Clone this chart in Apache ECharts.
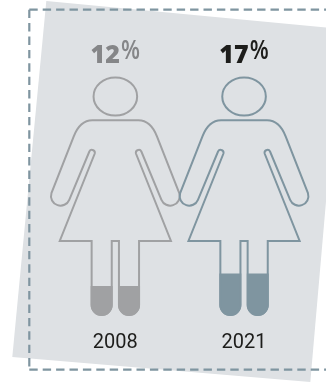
<!DOCTYPE html>
<html>
<head>
<meta charset="utf-8">
<style>html,body{margin:0;padding:0;background:#fff}#chart{width:326px;height:382px}</style>
<script src="https://cdn.jsdelivr.net/npm/echarts@6/dist/echarts.min.js"></script>
</head>
<body>
<div id="chart"></div>
<script>
// Share of women per survey year
const years = ['2008', '2021'];
const shares = [12, 17];
const lineColors = ['#a0a1a3', '#7f95a0'];
const numberColors = ['#858688', '#1d1d1b'];

// Silhouette outline, relative to the figure's centre line and the baseline at share 0
function halfOutline(sign) {
  const s = v => (sign * v).toFixed(2);
  const cw = sign > 0 ? 1 : 0;
  return [
    `M0 -195.7`, `L${s(23)} -195.7`,
    `C${s(32)} -195.7 ${s(38)} -189 ${s(41.7)} -179.3`,
    `L${s(63.9)} -122.8`,
    `A9.5 9.5 0 0 ${cw} ${s(46.1)} -116.2`,
    `L${s(26)} -164.5`,
    `A2.9 2.9 0 0 ${1 - cw} ${s(20.6)} -162.5`,
    `L${s(55.6)} -75`,
    `L${s(23.7)} -75`,
    `L${s(23.7)} -11`,
    `A10.05 10.05 0 0 ${cw} ${s(3.6)} -11`,
    `L${s(3.6)} -75`,
    `L0 -75`
  ].join(' ');
}

// One leg's level, rising from the foot up to the value's height
function legFill(sign, h) {
  const s = v => (sign * v).toFixed(2);
  return `M${s(2.75)} ${-h} L${s(24.7)} ${-h} L${s(24.7)} -11 ` +
    `A10.97 10.97 0 0 ${sign > 0 ? 1 : 0} ${s(2.75)} -11 Z`;
}

function renderFigure(params, api) {
  const i = params.dataIndex;
  const base = api.coord([api.value(0), 0]);
  const top = api.coord([api.value(0), api.value(1)]);
  const h = base[1] - top[1];
  const color = lineColors[i];
  const x = base[0], y = base[1];
  return {
    type: 'group',
    children: [
      { type: 'path', x, y,
        shape: { pathData: legFill(-1, h) + ' ' + legFill(1, h) },
        style: { fill: color } },
      { type: 'path', x, y,
        shape: { pathData: halfOutline(-1) + ' ' + halfOutline(1) },
        style: { fill: 'none', stroke: color, lineWidth: 2, lineJoin: 'miter' } },
      { type: 'ellipse', x, y,
        shape: { cx: 0, cy: -219.5, rx: 21.8, ry: 19.1 },
        style: { fill: 'none', stroke: color, lineWidth: 2 } },
      { type: 'text', x: x + 4.5, y: y - 260,
        style: {
          text: String(shares[i]), align: 'right', verticalAlign: 'middle',
          fontFamily: 'Open Sans', fontWeight: 800, fontSize: 25, fill: numberColors[i]
        } },
      { type: 'text', x: x + 5.6, y: y - 264.5, scaleY: 1.22,
        style: {
          text: '%', align: 'left', verticalAlign: 'middle',
          fontFamily: 'Open Sans', fontWeight: 600, fontSize: 22, fill: numberColors[i]
        } }
    ]
  };
}

const frameColor = '#7f95a0';
const frameDash = { stroke: frameColor, lineWidth: 2.2, lineDash: [8.4, 5] };

const chart = echarts.init(document.getElementById('chart'), null, { renderer: 'canvas' });
chart.setOption({
  animation: false,
  backgroundColor: '#fff',
  graphic: [
    { type: 'polygon', z: 0, shape: { points: [[46.3, 1], [341, 29], [310.3, 382], [12.3, 357]] },
      style: { fill: '#dee1e4' } },
    { type: 'polyline', z: 1, shape: { points: [[29.3, 9.7], [330, 9.7]] }, style: { fill: 'none', ...frameDash } },
    { type: 'polyline', z: 1, shape: { points: [[29.3, 9.7], [29.3, 369.7]] }, style: { fill: 'none', ...frameDash } },
    { type: 'polyline', z: 1, shape: { points: [[29.3, 369.7], [330, 369.7]] }, style: { fill: 'none', ...frameDash } }
  ],
  grid: { left: 51, width: 257.4, top: 66, height: 250 },
  xAxis: {
    type: 'category', data: years, boundaryGap: true,
    axisLine: { show: false }, axisTick: { show: false },
    axisLabel: { fontFamily: 'Roboto', fontSize: 20, fontWeight: 400, color: '#1d1d1b', margin: 17 }
  },
  yAxis: { type: 'value', min: 0, max: 100, show: false },
  series: [{
    type: 'custom', z: 5, clip: false,
    encode: { x: 0, y: 1 },
    data: years.map((y, i) => [y, shares[i]]),
    renderItem: renderFigure
  }]
});
</script>
</body>
</html>
